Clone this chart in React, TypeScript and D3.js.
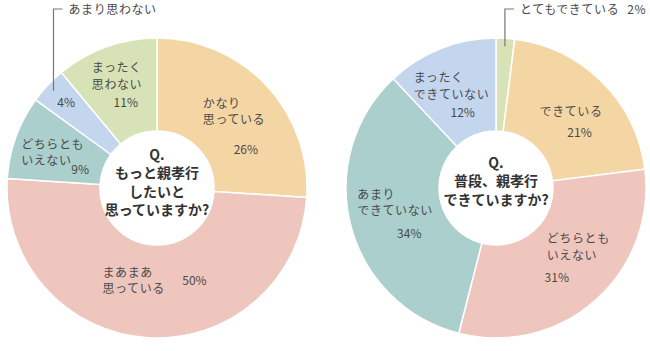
import React from "react";
import { pie, arc, PieArcDatum } from "d3";

// left donut: もっと親孝行したいと思っていますか?
const leftCategories = ["かなり\n思っている", "まあまあ\n思っている", "どちらとも\nいえない", "あまり思わない", "まったく\n思わない"];
const leftValues = [26, 50, 9, 4, 11];
const leftQuestion = ["Q.", "もっと親孝行", "したいと", "思っていますか?"];

// right donut: 普段、親孝行できていますか?
const rightCategories = ["とてもできている", "できている", "どちらとも\nいえない", "あまり\nできていない", "まったく\nできていない"];
const rightValues = [2, 21, 31, 34, 12];
const rightQuestion = ["Q.", "普段、親孝行", "できていますか?"];

const leftColors = ["#f4d6a4", "#efc6bd", "#abcfcc", "#c3d6ee", "#d7e3b6"];
const rightColors = ["#d7e3b6", "#f4d6a4", "#efc6bd", "#abcfcc", "#c3d6ee"];

// label offsets from slice centroid: [textDx, textDy, pctDx, pctDy]; null = outside label with leader
const leftOffsets: ([number, number, number, number] | null)[] = [
  [-30, -9, 13, 37],
  [-48, -15, 44, -7],
  [-38, -4, 21, 21],
  null,
  [-30, -18, 4, 17],
];
const rightOffsets: ([number, number, number, number] | null)[] = [
  null,
  [-30, 2, 10, 23],
  [-18, -23, -8, 16],
  [-38, -15, 14, 24],
  [-44, -9, 5, 26],
];

const W = 650;
const H = 351;
const R_OUT = 150;
const R_IN = 57;
const R_LABEL = 104;
const FONT = "'Noto Sans CJK JP', 'Noto Sans', sans-serif";
const TEXT = "#4a4a4a";

type Props = {
  cx: number;
  cy: number;
  categories: string[];
  values: number[];
  colors: string[];
  offsets: ([number, number, number, number] | null)[];
  question: string[];
  qTop: number;
};

const Donut = ({ cx, cy, categories, values, colors, offsets, question, qTop }: Props) => {
  const pieGen = pie<number>().sort(null).value((d) => d);
  const arcs = pieGen(values);
  const arcGen = arc<PieArcDatum<number>>().innerRadius(R_IN).outerRadius(R_OUT);
  const labelArc = arc<PieArcDatum<number>>().innerRadius(R_LABEL).outerRadius(R_LABEL);
  const leaderArc = arc<PieArcDatum<number>>().innerRadius(142).outerRadius(142);

  return (
    <g transform={`translate(${cx},${cy})`}>
      {arcs.map((a, i) => (
        <path key={i} d={arcGen(a) || ""} fill={colors[i]} stroke="#fff" strokeWidth={1.5} />
      ))}
      {arcs.map((a, i) => {
        const off = offsets[i];
        const lines = categories[i].split("\n");
        const pct = `${values[i]}%`;
        if (!off) {
          // leader to the top edge
          const [lx, ly] = leaderArc.centroid(a);
          const topY = 9 - cy;
          const small = values[i] < 3;
          return (
            <g key={"l" + i}>
              <polyline
                points={`${lx},${ly} ${lx},${topY} ${lx + 9},${topY}`}
                fill="none"
                stroke="#777"
                strokeWidth={1.2}
              />
              <text x={lx + 15} y={topY + 4.5} fontSize={12} fill={TEXT} fontFamily={FONT} letterSpacing={0.6}>
                {lines[0]}
                {small && <tspan dx={8}>{pct}</tspan>}
              </text>
              {!small && (
                <text
                  x={labelArc.centroid(a)[0] - 15}
                  y={labelArc.centroid(a)[1] - 9.5}
                  fontSize={12}
                  fill={TEXT}
                  fontFamily={FONT}
                  textAnchor="middle"
                >
                  {pct}
                </text>
              )}
            </g>
          );
        }
        const [x, y] = labelArc.centroid(a);
        return (
          <g key={"l" + i} fontFamily={FONT} fontSize={12} fill={TEXT}>
            {lines.map((ln, j) => (
              <text key={j} x={x + off[0]} y={y + off[1] + j * 16.5} letterSpacing={0.6}>
                {ln}
              </text>
            ))}
            <text x={x + off[2]} y={y + off[3]} textAnchor="middle">
              {pct}
            </text>
          </g>
        );
      })}
      <circle r={R_IN} fill="#fff" />
      {question.map((q, i) => (
        <text
          key={"q" + i}
          x={0}
          y={qTop + i * 18.3}
          textAnchor="middle"
          fontSize={14}
          fontWeight="bold"
          fill="#333"
          fontFamily={FONT}
        >
          {q}
        </text>
      ))}
    </g>
  );
};

export default function App() {
  return (
    <div style={{ position: "absolute", left: 0, top: 0, width: W, height: H, background: "#fff" }}>
      <svg width={W} height={H}>
        <rect width={W} height={H} fill="#fff" />
        <Donut
          cx={157}
          cy={188}
          categories={leftCategories}
          values={leftValues}
          colors={leftColors}
          offsets={leftOffsets}
          question={leftQuestion}
          qTop={-28}
        />
        <Donut
          cx={496}
          cy={188}
          categories={rightCategories}
          values={rightValues}
          colors={rightColors}
          offsets={rightOffsets}
          question={rightQuestion}
          qTop={-20}
        />
      </svg>
    </div>
  );
}
